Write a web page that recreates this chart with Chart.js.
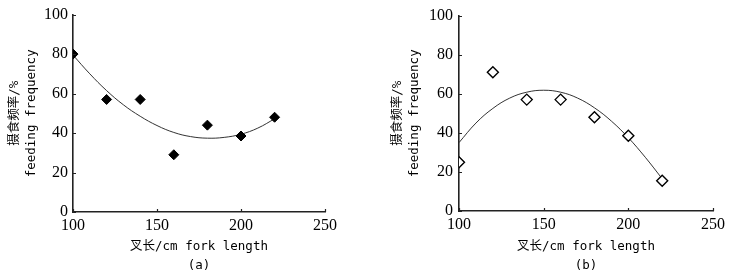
<!DOCTYPE html>
<html>
<head>
<meta charset="utf-8">
<script src="https://cdn.jsdelivr.net/npm/chart.js@4"></script>
<style>
  html, body { margin: 0; padding: 0; background: #fff; }
  #wrap { position: relative; width: 737px; height: 280px; }
  .panel { position: absolute; top: 0; }
</style>
</head>
<body>
<div id="wrap">
  <canvas id="chartA" class="panel" style="left:0" width="368" height="280"></canvas>
  <canvas id="chartB" class="panel" style="left:369px" width="368" height="280"></canvas>
</div>
<script>
// measured points
const forkLength = [100, 120, 140, 160, 180, 200, 220];
const freqA = [80, 57, 57, 29, 44, 38.5, 48];
const freqB = [25, 71, 57, 57, 48, 38.5, 15.5];

// fitted curves
const fitX = [100, 110, 120, 130, 140, 150, 160, 170, 180, 190, 200, 210, 220];
const fitA = [79.5, 70, 61.5, 54.3, 48.5, 43.8, 40.3, 38.2, 37.4, 37.8, 39.4, 42.5, 47.2];
const fitB = [35, 45, 52.5, 57.8, 60.8, 61.8, 60.8, 57.8, 52.8, 46, 37.5, 27.5, 16.5];

const xTicks = [100, 150, 200, 250];
const yTicks = [0, 20, 40, 60, 80, 100];

const xTitle = '叉长/cm fork length';
const yTitle = ['摄食频率/%', 'feeding frequency'];

const monoFont = '"DejaVu Sans Mono", "Noto Sans CJK SC", monospace';
const serifFont = '"Liberation Serif", "Times New Roman", serif';

function pairs(xs, ys) {
  return xs.map((x, i) => ({ x: x, y: ys[i] }));
}

// little inward tick marks
const innerTicks = {
  id: 'innerTicks',
  afterDraw(chart) {
    const ctx = chart.ctx;
    const xs = chart.scales.x, ys = chart.scales.y;
    ctx.save();
    ctx.strokeStyle = '#222';
    ctx.lineWidth = 1.2;
    ctx.beginPath();
    xTicks.forEach(v => {
      const px = Math.round(xs.getPixelForValue(v)) + 0.5;
      ctx.moveTo(px, ys.bottom);
      ctx.lineTo(px, ys.bottom - 3);
    });
    yTicks.forEach(v => {
      const py = Math.round(ys.getPixelForValue(v)) + 0.5;
      ctx.moveTo(xs.left - 1, py);
      ctx.lineTo(xs.left + 3, py);
    });
    ctx.stroke();
    ctx.restore();
  }
};

function makeChart(id, pts, fit, opts) {
  return new Chart(document.getElementById(id), {
    type: 'scatter',
    data: {
      datasets: [
        {
          data: pairs(fitX, fit),
          showLine: true,
          borderColor: '#333',
          borderWidth: 1,
          pointRadius: 0,
          tension: 0.4,
          order: 2
        },
        {
          data: pairs(forkLength, pts),
          showLine: false,
          pointStyle: 'rectRot',
          pointRadius: opts.radius,
          backgroundColor: opts.fill,
          borderColor: '#000',
          borderWidth: opts.border,
          order: 1
        }
      ]
    },
    options: {
      responsive: false,
      animation: false,
      layout: { padding: { left: 0, top: 13, right: opts.padRight, bottom: 0 } },
      plugins: { legend: { display: false }, tooltip: { enabled: false } },
      scales: {
        x: {
          type: 'linear',
          min: 100, max: 250,
          afterBuildTicks: s => { s.ticks = xTicks.map(v => ({ value: v })); },
          afterFit: s => { s.height = opts.xH; },
          grid: { drawOnChartArea: false, drawTicks: false },
          border: { color: '#222', width: 1.6 },
          ticks: { padding: 4, color: '#000', font: { family: serifFont, size: 16 }, maxRotation: 0 },
          title: {
            display: true,
            text: [xTitle, opts.label],
            color: '#000',
            font: { family: monoFont, size: 12.5, lineHeight: '19px' },
            padding: { top: 0, bottom: 4.5 }
          }
        },
        y: {
          min: 0, max: 100,
          afterBuildTicks: s => { s.ticks = yTicks.map(v => ({ value: v })); },
          afterFit: s => { s.width = opts.yW; },
          grid: { drawOnChartArea: false, drawTicks: false },
          border: { color: '#222', width: 1.6 },
          ticks: { padding: opts.yPad, color: '#000', font: { family: serifFont, size: 16 } },
          title: {
            display: true,
            text: yTitle,
            color: '#000',
            font: { family: monoFont, size: 12.5, lineHeight: '17px' },
            padding: { top: opts.yTitlePad, bottom: 0 }
          }
        }
      }
    },
    plugins: [innerTicks]
  });
}

function drawAll() {
  makeChart('chartA', freqA, fitA, {
    label: '(a)', fill: '#000', border: 1, radius: 5,
    padRight: 43, xH: 68, yW: 73, yPad: 5, yTitlePad: 6.5
  });
  makeChart('chartB', freqB, fitB, {
    label: '(b)', fill: '#fff', border: 1.4, radius: 5.5,
    padRight: 24, xH: 69, yW: 90, yPad: 6, yTitlePad: 20.5
  });
}

Promise.all([
  document.fonts.load('16px "Liberation Serif"'),
  document.fonts.load('12.5px "DejaVu Sans Mono"'),
  document.fonts.load('12.5px "Noto Sans CJK SC"', '摄食频率叉长')
]).then(drawAll, drawAll);
</script>
</body>
</html>
